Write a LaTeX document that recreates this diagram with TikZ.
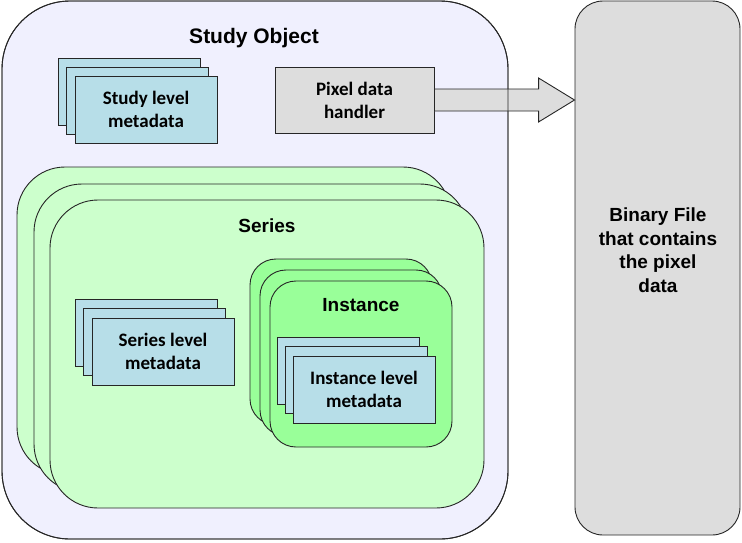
\documentclass[tikz,border=0pt]{standalone}
\usepackage{fontspec}
\setmainfont{Liberation Sans}
\newfontfamily\calib{Carlito}
\usetikzlibrary{calc}
\definecolor{studyfill}{HTML}{F0F0FE}
\definecolor{seriesfill}{HTML}{CCFFCC}
\definecolor{instfill}{HTML}{99FF99}
\definecolor{metafill}{HTML}{B7DEE8}
\definecolor{grayfill}{HTML}{DDDDDD}
\definecolor{linec}{HTML}{262626}
\begin{document}
\begin{tikzpicture}[x=1pt,y=-1pt,
 outline/.style={draw=linec, line width=0.9pt},
 studybox/.style={outline, fill=studyfill, rounded corners=68pt, minimum width=506pt, minimum height=538pt, inner sep=0pt, outer sep=0pt},
 serieslayer/.style={outline, fill=seriesfill, rounded corners=48pt, minimum width=434pt, minimum height=308pt, inner sep=0pt},
 instlayer/.style={outline, fill=instfill, rounded corners=26pt, minimum width=182pt, minimum height=166pt, inner sep=0pt},
 metalayer/.style={outline, fill=metafill, minimum width=142pt, minimum height=67pt, inner sep=0pt, align=center, font=\calib\bfseries\fontsize{19}{23}\selectfont},
 graybox/.style={outline, fill=grayfill, inner sep=0pt, align=center},
 title/.style={font=\bfseries\fontsize{19}{23.5}\selectfont, inner sep=0pt, align=center}
]
\useasboundingbox (0,0) rectangle (742,542);

% Study object
\node[studybox] (study) at (255,270) {};
\node[title, font=\bfseries\fontsize{21}{25}\selectfont] (studyt) at (254,38) {Study Object};

% study level metadata stack
\node[metalayer] (sm1) at (129,91.5) {};
\node[metalayer] (sm2) at (137.5,100.5) {};
\node[metalayer] (sm3) at (146,109.5) {Study level\\metadata};

% pixel data handler
\node[graybox, minimum width=159pt, minimum height=66pt, font=\calib\bfseries\fontsize{19}{23}\selectfont] (ph) at (354.5,100) {Pixel data\\handler};

% binary file
\node[graybox, rounded corners=28pt, minimum width=165pt, minimum height=534pt] (bin) at (657.5,268) {};
\node[title] (bint) at (658,250) {Binary File\\that contains\\the pixel\\data};

% block arrow
\coordinate (tip) at (bin.west |- ph.east);
\draw[outline, fill=grayfill] ($(ph.east)+(0,-11)$) -- ($(tip)+(-36,-11)$) -- ($(tip)+(-36,-22)$) -- (tip) -- ($(tip)+(-36,22)$) -- ($(tip)+(-36,11)$) -- ($(ph.east)+(0,11)$) -- cycle;
\draw[outline, rounded corners=68pt] (study.north west) rectangle (study.south east);

% series layers
\node[serieslayer] (se1) at (234,321) {};
\node[serieslayer] (se2) at (251,338) {};
\node[serieslayer] (se3) at (267,354) {};
\node[title] (set) at (267,226) {Series};

% series level metadata
\node[metalayer] (sem1) at (146,332.5) {};
\node[metalayer] (sem2) at (154,341.5) {};
\node[metalayer] (sem3) at (163,351.5) {Series level\\metadata};

% instance layers
\node[instlayer] (in1) at (341,342) {};
\node[instlayer] (in2) at (351,353) {};
\node[instlayer] (in3) at (361,364) {};
\node[title] (int) at (361,305) {Instance};

% instance level metadata
\node[metalayer] (im1) at (348,370.5) {};
\node[metalayer] (im2) at (356,379.5) {};
\node[metalayer] (im3) at (364,389.5) {Instance level\\metadata};
\end{tikzpicture}
\end{document}
